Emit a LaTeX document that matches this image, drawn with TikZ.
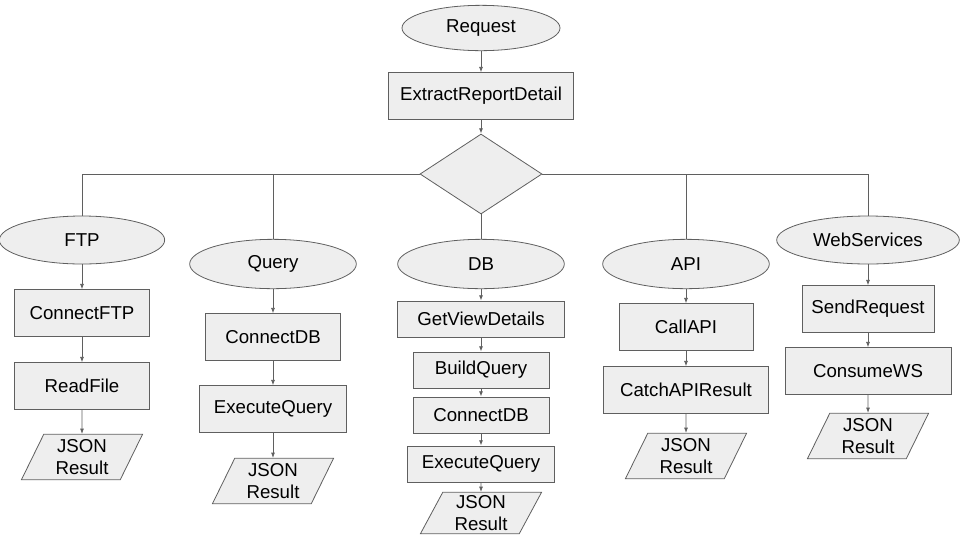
\documentclass[tikz,border=0pt]{standalone}
\usepackage{fontspec}
\setmainfont{Liberation Sans}
\usepackage{xcolor}
\usetikzlibrary{arrows.meta,shapes.geometric,positioning}
\definecolor{boxfill}{HTML}{EEEEEE}
\definecolor{boxline}{HTML}{5F5F5F}

\tikzset{
  base/.style={draw=boxline,fill=boxfill,line width=0.6pt,inner sep=0pt,
    font=\fontsize{14}{16}\selectfont,align=center},
  oval/.style={base,ellipse,minimum height=37pt},
  task/.style={base,rectangle,minimum height=35pt},
  small task/.style={task,minimum height=27pt},
  choice/.style={base,diamond,minimum width=91.5pt,minimum height=60pt},
  json/.style={base,trapezium,trapezium left angle=66,trapezium right angle=114,
    trapezium stretches=true,minimum width=91pt,minimum height=34pt},
  link/.style={draw=boxline,line width=0.6pt},
  flow/.style={link,-{Latex[length=4pt,width=3pt]}},
}

\begin{document}
\begin{tikzpicture}[x=0.75pt,y=-0.75pt]
        \useasboundingbox (0,0) rectangle (960,540);
        % top
        \node[oval,minimum width=118.5pt,minimum height=34pt] (request) at (481,28) {Request};
        \node[task,minimum width=139pt] (extract) at (481,96) {ExtractReportDetail};
        \node[choice] (switch) at (481,174) {};
        % FTP
        \node[oval,minimum width=124pt,minimum height=36pt] (ftp) at (82,240) {FTP};
        \node[task,minimum width=101pt] (connftp) at (82,313) {ConnectFTP};
        \node[task,minimum width=101pt] (readfile) at (82,386) {ReadFile};
        \node[json] (ftpjson) at (82,457) {JSON\\Result};
        % Query
        \node[oval,minimum width=125pt] (query) at (273,264) {Query};
        \node[task,minimum width=101pt] (qconn) at (273,337) {ConnectDB};
        \node[task,minimum width=110pt] (qexec) at (273,409) {ExecuteQuery};
        \node[json] (qjson) at (273,481) {JSON\\Result};
        % DB
        \node[oval,minimum width=125pt] (db) at (481,264) {DB};
        \node[small task,minimum width=125pt] (viewdet) at (481,319) {GetViewDetails};
        \node[small task,minimum width=102pt] (build) at (481,370) {BuildQuery};
        \node[small task,minimum width=102pt] (dbconn) at (481,415) {ConnectDB};
        \node[small task,minimum width=110pt] (dbexec) at (481,464) {ExecuteQuery};
        \node[json,minimum height=31pt] (dbjson) at (481,513) {JSON\\Result};
        % API
        \node[oval,minimum width=125pt] (api) at (686,264) {API};
        \node[task,minimum width=100.5pt] (callapi) at (686,327) {CallAPI};
        \node[task,minimum width=124pt] (catchapi) at (686,390) {CatchAPIResult};
        \node[json] (apijson) at (686,456) {JSON\\Result};
        % WebServices
        \node[oval,minimum width=137pt,minimum height=36pt] (ws) at (868,240) {WebServices};
        \node[task,minimum width=99pt] (sendreq) at (868,309) {SendRequest};
        \node[task,minimum width=124.5pt] (consume) at (868,371) {ConsumeWS};
        \node[json] (wsjson) at (868,436) {JSON\\Result};
        % branches
        \draw[link] (switch.west) -| (ftp.north);
        \draw[link] (switch.west) -| (query.north);
        \draw[link] (switch.south) -- (db.north);
        \draw[link] (switch.east) -| (api.north);
        \draw[link] (switch.east) -| (ws.north);
        \foreach \a/\b in {request/extract,extract/switch,
          ftp/connftp,connftp/readfile,readfile/ftpjson,
          query/qconn,qconn/qexec,qexec/qjson,
          db/viewdet,viewdet/build,build/dbconn,dbconn/dbexec,dbexec/dbjson,
          api/callapi,callapi/catchapi,catchapi/apijson,
          ws/sendreq,sendreq/consume,consume/wsjson}
          \draw[flow] (\a) -- (\b);
\end{tikzpicture}
\end{document}
